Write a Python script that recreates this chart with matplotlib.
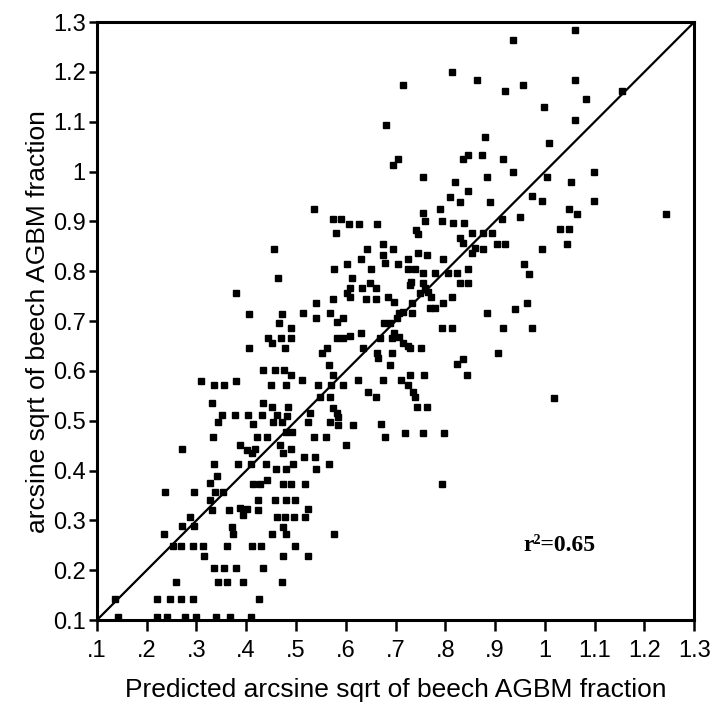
import numpy as np
import matplotlib
matplotlib.use("Agg")
from matplotlib import pyplot as plt

pts = [
    # upper part
    (0.814, 1.200), (0.864, 1.184), (0.715, 1.174), (0.680, 1.094), (0.879, 1.069),
    (0.704, 1.025), (0.695, 1.014), (0.846, 1.034), (0.836, 1.025), (0.874, 1.034),
    (0.755, 0.990), (0.820, 0.980), (0.884, 0.990), (0.845, 0.961), (0.810, 0.950),
    (0.830, 0.939), (0.889, 0.939), (0.536, 0.925), (0.755, 0.916), (0.789, 0.925),
    (1.060, 1.285), (0.937, 1.265), (1.060, 1.184), (0.957, 1.174), (0.920, 1.161),
    (1.083, 1.146), (0.999, 1.130), (1.060, 1.104), (1.155, 1.161), (1.009, 1.058),
    (0.915, 1.025), (0.935, 0.999), (1.005, 0.990), (1.098, 1.000), (1.053, 0.980),
    (0.974, 0.951), (0.994, 0.940), (1.098, 0.940), (1.049, 0.925), (1.064, 0.915),
    (1.243, 0.915), (0.950, 0.909), (0.914, 0.905),
    (1.030, 0.885), (1.049, 0.885), (0.919, 0.855), (1.044, 0.855), (0.994, 0.844),
    (0.959, 0.815), (0.969, 0.795), (0.965, 0.736), (0.940, 0.725), (0.915, 0.686),
    (0.974, 0.686), (1.018, 0.546),
    # middle
    (0.575, 0.905), (0.590, 0.905), (0.607, 0.895), (0.627, 0.895), (0.662, 0.895),
    (0.759, 0.901), (0.793, 0.901), (0.815, 0.897), (0.838, 0.897), (0.581, 0.877),
    (0.742, 0.883), (0.746, 0.875), (0.853, 0.877), (0.875, 0.877), (0.893, 0.877),
    (0.674, 0.855), (0.694, 0.844), (0.642, 0.844), (0.830, 0.866), (0.836, 0.856),
    (0.854, 0.836), (0.860, 0.846), (0.875, 0.844), (0.903, 0.855), (0.631, 0.824),
    (0.674, 0.833), (0.679, 0.816), (0.704, 0.815), (0.725, 0.824), (0.746, 0.836),
    (0.763, 0.833), (0.795, 0.824), (0.602, 0.815), (0.577, 0.804), (0.651, 0.804),
    (0.726, 0.804), (0.739, 0.804), (0.756, 0.796), (0.779, 0.796), (0.806, 0.796),
    (0.823, 0.796), (0.846, 0.804), (0.613, 0.786), (0.731, 0.779), (0.729, 0.773),
    (0.756, 0.776), (0.830, 0.776), (0.846, 0.776), (0.633, 0.766), (0.649, 0.776),
    (0.661, 0.766), (0.609, 0.766), (0.602, 0.757), (0.609, 0.748), (0.759, 0.766),
    (0.766, 0.759), (0.749, 0.757), (0.771, 0.748), (0.813, 0.749), (0.575, 0.745),
    (0.640, 0.745), (0.661, 0.745), (0.684, 0.748), (0.696, 0.739), (0.734, 0.736),
    (0.795, 0.737), (0.769, 0.727), (0.779, 0.727), (0.540, 0.736), (0.515, 0.716),
    (0.568, 0.716), (0.540, 0.706), (0.595, 0.706), (0.582, 0.699), (0.706, 0.716),
    (0.716, 0.719), (0.734, 0.716), (0.883, 0.716), (0.676, 0.697), (0.689, 0.697),
    (0.702, 0.706), (0.793, 0.686), (0.813, 0.686), (0.582, 0.666), (0.595, 0.666),
    (0.609, 0.670), (0.631, 0.676), (0.669, 0.666), (0.696, 0.676), (0.706, 0.669),
    (0.692, 0.666), (0.716, 0.656), (0.726, 0.650), (0.751, 0.646), (0.729, 0.646),
    (0.562, 0.646), (0.552, 0.636), (0.635, 0.646), (0.662, 0.636), (0.665, 0.626),
    (0.693, 0.636), (0.905, 0.636), (0.567, 0.612), (0.689, 0.612), (0.823, 0.614),
    (0.835, 0.623), (0.843, 0.592), (0.575, 0.592), (0.513, 0.582), (0.545, 0.572),
    (0.570, 0.572), (0.595, 0.572), (0.625, 0.582), (0.675, 0.582), (0.712, 0.582),
    (0.729, 0.592), (0.726, 0.572), (0.758, 0.592), (0.645, 0.558), (0.661, 0.548),
    (0.736, 0.558), (0.739, 0.548), (0.548, 0.548), (0.568, 0.548), (0.743, 0.528),
    (0.763, 0.528), (0.528, 0.515), (0.582, 0.515), (0.585, 0.508), (0.575, 0.525),
    (0.525, 0.498), (0.568, 0.498), (0.585, 0.492), (0.615, 0.492), (0.670, 0.494),
    (0.719, 0.476), (0.755, 0.476), (0.798, 0.476), (0.537, 0.467), (0.560, 0.467),
    (0.679, 0.467), (0.601, 0.451), (0.517, 0.428), (0.538, 0.428), (0.566, 0.413),
    (0.540, 0.403), (0.518, 0.373), (0.794, 0.373), (0.525, 0.324), (0.518, 0.307),
    (0.576, 0.272), (0.525, 0.229),
    # left / lower part
    (0.455, 0.844), (0.464, 0.786), (0.379, 0.756), (0.405, 0.714), (0.471, 0.714),
    (0.466, 0.697), (0.490, 0.686), (0.444, 0.666), (0.451, 0.657), (0.470, 0.666),
    (0.490, 0.666), (0.405, 0.646), (0.478, 0.646), (0.433, 0.602), (0.457, 0.602),
    (0.475, 0.602), (0.490, 0.592), (0.310, 0.580), (0.336, 0.572), (0.355, 0.572),
    (0.379, 0.580), (0.450, 0.572), (0.481, 0.572), (0.331, 0.536), (0.434, 0.536),
    (0.451, 0.528), (0.485, 0.527), (0.351, 0.511), (0.377, 0.511), (0.403, 0.511),
    (0.431, 0.511), (0.462, 0.511), (0.482, 0.509),
    (0.414, 0.494), (0.454, 0.498), (0.471, 0.498), (0.344, 0.498), (0.333, 0.467),
    (0.421, 0.467), (0.441, 0.467), (0.481, 0.478), (0.492, 0.478), (0.272, 0.443),
    (0.387, 0.451), (0.401, 0.441), (0.411, 0.435), (0.418, 0.443), (0.468, 0.451),
    (0.474, 0.435), (0.491, 0.443), (0.335, 0.413), (0.384, 0.413), (0.409, 0.413),
    (0.440, 0.413), (0.460, 0.403), (0.480, 0.403), (0.495, 0.413), (0.341, 0.389),
    (0.327, 0.375), (0.414, 0.373), (0.428, 0.373), (0.441, 0.381), (0.474, 0.373),
    (0.491, 0.373), (0.237, 0.358), (0.296, 0.358), (0.337, 0.358), (0.354, 0.358),
    (0.327, 0.341), (0.424, 0.341), (0.458, 0.341), (0.480, 0.341), (0.498, 0.341),
    (0.331, 0.322), (0.366, 0.322), (0.387, 0.326), (0.394, 0.311), (0.401, 0.324),
    (0.424, 0.322), (0.462, 0.307), (0.478, 0.307), (0.496, 0.307), (0.287, 0.307),
    (0.272, 0.289), (0.296, 0.289), (0.235, 0.273), (0.371, 0.286), (0.374, 0.273),
    (0.451, 0.273), (0.474, 0.287), (0.481, 0.273), (0.253, 0.249), (0.270, 0.249),
    (0.294, 0.249), (0.313, 0.249), (0.361, 0.249), (0.411, 0.249), (0.429, 0.249),
    (0.498, 0.249), (0.315, 0.229), (0.473, 0.229), (0.335, 0.204), (0.355, 0.204),
    (0.379, 0.204), (0.434, 0.204), (0.259, 0.177), (0.344, 0.177), (0.361, 0.177),
    (0.394, 0.177), (0.471, 0.177), (0.221, 0.143), (0.247, 0.143), (0.270, 0.143),
    (0.294, 0.143), (0.426, 0.143), (0.136, 0.143), (0.143, 0.107), (0.221, 0.107),
    (0.241, 0.107), (0.277, 0.107), (0.299, 0.107), (0.339, 0.107), (0.367, 0.107),
    (0.409, 0.107),
]
predicted = np.array([p[0] for p in pts])
observed = np.array([p[1] for p in pts])

ticks = [0.1, 0.2, 0.3, 0.4, 0.5, 0.6, 0.7, 0.8, 0.9, 1.0, 1.1, 1.2, 1.3]
xlabels = ['.1', '.2', '.3', '.4', '.5', '.6', '.7', '.8', '.9', '1', '1.1', '1.2', '1.3']
ylabels = ['0.1', '0.2', '0.3', '0.4', '0.5', '0.6', '0.7', '0.8', '0.9', '1', '1.1', '1.2', '1.3']
r2_text = 'r\u00b2=0.65'

plt.rcParams['font.family'] = ['Liberation Sans', 'DejaVu Sans']

fig = plt.figure(figsize=(7.12, 7.12), dpi=100)
ax = fig.add_axes([0.136, 0.129, 0.839, 0.840])

ax.plot([0.1, 1.3], [0.1, 1.3], color='black', lw=1.6, zorder=2)
ax.plot(predicted, observed, 's', color='black', markersize=5.0, zorder=3)

ax.set_xlim(0.1, 1.3)
ax.set_ylim(0.1, 1.3)
ax.set_xticks(ticks)
ax.set_xticklabels(xlabels)
ax.set_yticks(ticks)
ax.set_yticklabels(ylabels)
ax.tick_params(direction='out', length=8, width=1.8, labelsize=17, pad=6)
ax.tick_params(axis='y', length=6, pad=2)
for s in ax.spines.values():
    s.set_linewidth(2.2)

ax.set_xlabel('Predicted arcsine sqrt of beech AGBM fraction', fontsize=19, labelpad=12)
ax.set_ylabel('arcsine sqrt of beech AGBM fraction', fontsize=19, labelpad=2)

ax.text(1.03, 0.25, r2_text, ha='center', va='center', fontsize=17,
        family='Liberation Serif', fontweight='bold')

fig.savefig('out.png', dpi=100)
